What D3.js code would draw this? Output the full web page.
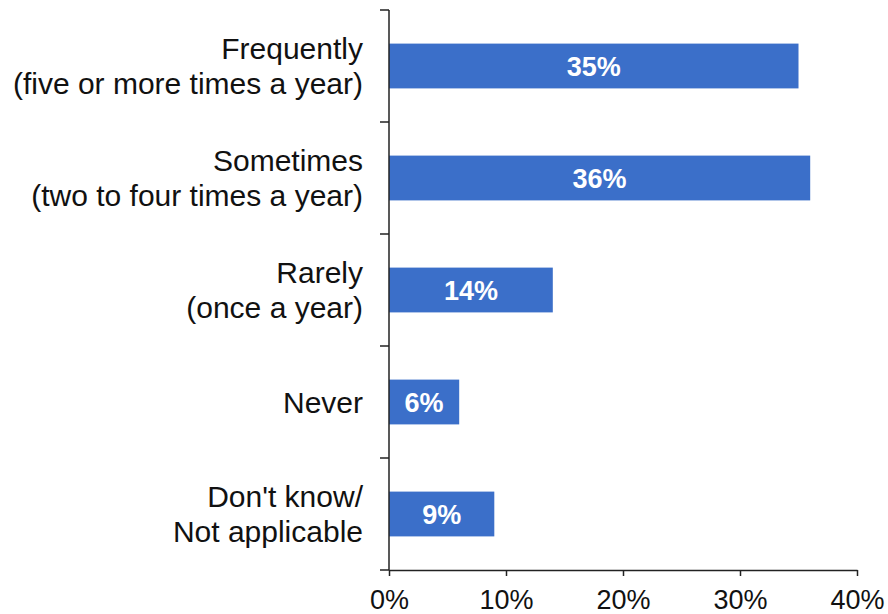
<!DOCTYPE html>
<html>
<head>
<meta charset="utf-8">
<script src="https://cdn.jsdelivr.net/npm/d3@7"></script>
<style>
  body { margin: 0; background: #fff; }
  svg text { font-family: "Liberation Sans", Arial, sans-serif; }
</style>
</head>
<body>
<div id="chart"></div>
<script>
const categories = [
  ["Frequently", "(five or more times a year)"],
  ["Sometimes", "(two to four times a year)"],
  ["Rarely", "(once a year)"],
  ["Never"],
  ["Don't know/", "Not applicable"]
];
const values = [35, 36, 14, 6, 9];
const tickValues = [0, 10, 20, 30, 40];

const width = 888, height = 614;
const margin = { top: 10, right: 31, bottom: 44, left: 389 };

const svg = d3.select("#chart").append("svg")
  .attr("width", width)
  .attr("height", height);

const x = d3.scaleLinear()
  .domain([0, 40])
  .range([margin.left, width - margin.right]);

const y = d3.scaleBand()
  .domain(d3.range(categories.length))
  .range([margin.top, height - margin.bottom])
  .paddingInner(0.6)
  .paddingOuter(0.3);

// bars
svg.append("g")
  .selectAll("rect")
  .data(values)
  .enter().append("rect")
  .attr("x", x(0))
  .attr("y", (d, i) => y(i))
  .attr("width", d => x(d) - x(0))
  .attr("height", y.bandwidth())
  .attr("fill", "#3b6fc9");

// value labels inside bars
svg.append("g")
  .selectAll("text")
  .data(values)
  .enter().append("text")
  .attr("x", d => (x(d) + x(0)) / 2)
  .attr("y", (d, i) => y(i) + y.bandwidth() / 2)
  .attr("dy", "0.36em")
  .attr("text-anchor", "middle")
  .attr("fill", "#fff")
  .attr("font-weight", "bold")
  .attr("font-size", 27)
  .text(d => d + "%");

// y axis: line plus ticks at category boundaries
const step = y.step();
const yAxis = svg.append("g");
yAxis.append("line")
  .attr("x1", x(0)).attr("x2", x(0))
  .attr("y1", margin.top).attr("y2", height - margin.bottom)
  .attr("stroke", "#222").attr("stroke-width", 1.5);
yAxis.selectAll("line.tick")
  .data(d3.range(categories.length + 1))
  .enter().append("line")
  .attr("class", "tick")
  .attr("x1", x(0) - 9).attr("x2", x(0))
  .attr("y1", i => margin.top + i * step)
  .attr("y2", i => margin.top + i * step)
  .attr("stroke", "#222").attr("stroke-width", 1.5);

// category labels
const labels = svg.append("g")
  .selectAll("text")
  .data(categories)
  .enter().append("text")
  .attr("text-anchor", "end")
  .attr("font-size", 30)
  .attr("fill", "#111");
labels.each(function(lines, i) {
  const cy = y(i) + y.bandwidth() / 2;
  const lh = 35;
  const start = cy - (lines.length - 1) * lh / 2;
  d3.select(this).selectAll("tspan")
    .data(lines)
    .enter().append("tspan")
    .attr("x", 363)
    .attr("y", (d, j) => start + j * lh)
    .attr("dy", "0.35em")
    .text(d => d);
});

// x axis
const xAxis = svg.append("g")
  .attr("transform", `translate(0,${height - margin.bottom})`)
  .call(d3.axisBottom(x)
    .tickValues(tickValues)
    .tickFormat(d => d + "%")
    .tickSize(6)
    .tickSizeOuter(0)
    .tickPadding(14));
xAxis.select(".domain").attr("stroke", "#222").attr("stroke-width", 1.5);
xAxis.selectAll(".tick line").attr("stroke", "#222").attr("stroke-width", 1.5);
xAxis.selectAll(".tick text")
  .attr("font-size", 27)
  .attr("font-family", "Liberation Sans, Arial, sans-serif")
  .attr("fill", "#111");
</script>
</body>
</html>
